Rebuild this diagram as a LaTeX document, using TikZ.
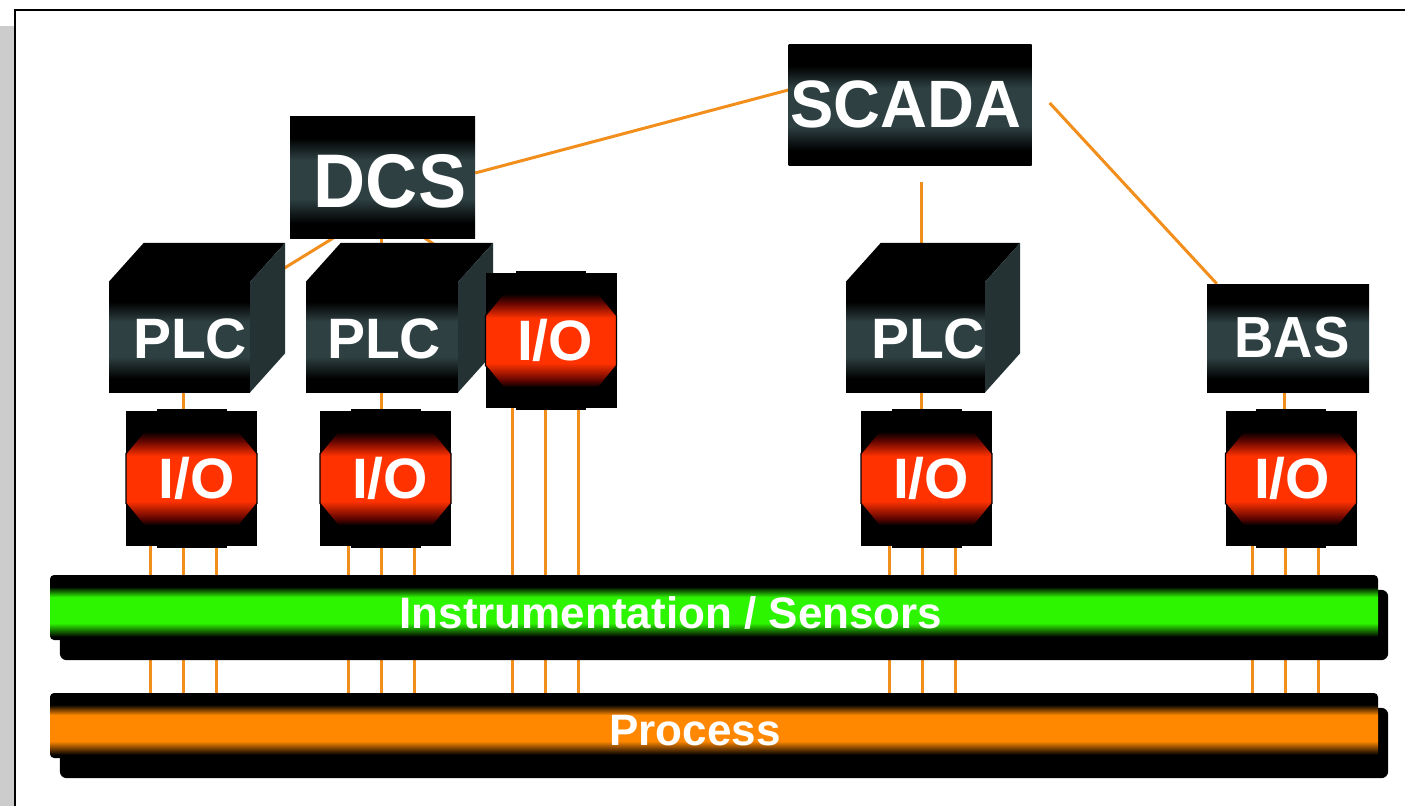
\documentclass[tikz,border=0pt]{standalone}
\usepackage{fontspec}
\setmainfont{Liberation Sans}
\usepackage{graphicx}
\usetikzlibrary{calc,backgrounds}

% palette
\definecolor{wireorange}{RGB}{242,142,28}
\definecolor{tubegreen}{RGB}{45,245,0}
\definecolor{tubeorange}{RGB}{255,136,0}
\definecolor{iored}{RGB}{255,50,0}
\definecolor{iodark}{RGB}{100,5,0}
\definecolor{slate}{RGB}{46,64,66}
\definecolor{cubeside}{RGB}{36,50,52}
\definecolor{framegray}{RGB}{204,204,204}

% vertical shadings (path is fitted to 25bp..75bp)
\pgfdeclareverticalshading{slateband}{100bp}{color(0bp)=(black); color(25bp)=(black); color(31bp)=(black); color(41bp)=(slate); color(57bp)=(slate); color(66bp)=(black); color(75bp)=(black); color(100bp)=(black)}
\pgfdeclareverticalshading{redglow}{100bp}{color(0bp)=(black); color(25bp)=(black); color(29bp)=(iodark); color(38bp)=(iored); color(62bp)=(iored); color(70bp)=(iodark); color(75bp)=(black); color(100bp)=(black)}
\pgfdeclareverticalshading{greentube}{100bp}{color(0bp)=(black); color(25bp)=(black); color(27.5bp)=(black); color(38bp)=(tubegreen); color(58bp)=(tubegreen); color(66bp)=(black); color(75bp)=(black); color(100bp)=(black)}
\pgfdeclareverticalshading{orangetube}{100bp}{color(0bp)=(black); color(25bp)=(black); color(27.5bp)=(black); color(38bp)=(tubeorange); color(58bp)=(tubeorange); color(66bp)=(black); color(75bp)=(black); color(100bp)=(black)}

\tikzset{
  wire/.style={draw=wireorange, line width=3pt},
  darkbox/.style={rectangle, inner sep=0pt, shading=slateband, shade},
  cubefront/.style={darkbox, minimum height=110pt},
  iobase/.style={rectangle, inner sep=0pt, fill=black, minimum width=131pt, minimum height=135pt},
  tube/.style={rectangle, inner sep=0pt, rounded corners=4pt, shade, minimum width=1328pt, minimum height=65pt},
  lbl/.style={text=white, inner sep=0pt, anchor=base},
  bigfont/.style={font=\bfseries\fontsize{#1}{#1}\selectfont},
}

% input/output module: black casing with a red octagonal front
\newcommand{\ioblock}[3]{%
  \node[iobase] (#1) at (#2,#3) {};
  \fill[black] ($(#1.north)+(-35,-1.5)$) rectangle ($(#1.south)+(35,1.5)$);
  \path[shade, shading=redglow, draw=black, line width=1.2pt]
    ($(#1.center)+(-65.5,-25)$) -- ($(#1.center)+(-47.5,-47)$) --
    ($(#1.center)+(47.5,-47)$) -- ($(#1.center)+(65.5,-25)$) --
    ($(#1.center)+(65.5,25)$) -- ($(#1.center)+(47.5,47)$) --
    ($(#1.center)+(-47.5,47)$) -- ($(#1.center)+(-65.5,25)$) -- cycle;
}
% controller cube: shaded front face plus top and side faces
\newcommand{\plccube}[4]{%
  \node[cubefront, minimum width=#4] (#1) at (#2,#3) {};
  \fill[black] (#1.north west) -- (#1.north east) -- ($(#1.north east)+(35,-39)$) -- ($(#1.north west)+(35,-39)$) -- cycle;
  \fill[cubeside] (#1.north east) -- (#1.south east) -- ($(#1.south east)+(35,-39)$) -- ($(#1.north east)+(35,-39)$) -- cycle;
}

\begin{document}
\begin{tikzpicture}[x=1pt, y=-1pt]
\useasboundingbox (0,0) rectangle (1405,806);

% ---- supervisory level ----
\node[darkbox, minimum width=243pt, minimum height=121pt] (scada) at (910,104.5) {};
\node[lbl, bigfont=67pt] at (906,127) {\scalebox{0.97}[1]{SCADA}};

\node[darkbox, minimum width=185pt, minimum height=122pt] (dcs) at (382.5,177) {};
\node[lbl, bigfont=76pt] at (390,207) {\scalebox{0.95}[1]{DCS}};

% ---- controllers ----
\plccube{plc1}{179.5}{337}{141pt}
\node[lbl, bigfont=57pt] at (190,358) {PLC};

\plccube{plc2}{382}{337}{152pt}
\node[lbl, bigfont=57pt] at (384,358) {PLC};

\plccube{plc3}{915.5}{337}{139pt}
\node[lbl, bigfont=57pt] at (928,358) {PLC};

\node[darkbox, minimum width=162pt, minimum height=108pt] (bas) at (1288,338) {};
\node[lbl, bigfont=58pt] at (1292,357) {\scalebox{0.94}[1]{BAS}};

% ---- I/O modules ----
\ioblock{io3}{551}{340.5}
\node[lbl, bigfont=57pt] at (555,360) {I/O};
\ioblock{io1}{191.5}{478.5}
\node[lbl, bigfont=57pt] at (197,498) {I/O};
\ioblock{io2}{385.5}{478.5}
\node[lbl, bigfont=57pt] at (390,498) {I/O};
\ioblock{io4}{926.5}{478.5}
\node[lbl, bigfont=57pt] at (931,498) {I/O};
\ioblock{io5}{1291}{478.5}
\node[lbl, bigfont=57pt] at (1292,498) {I/O};

% ---- field buses ----
\node[tube, shading=greentube] (instr) at (714,607.5) {};
\node[lbl, bigfont=44pt] at (671,628) {Instrumentation / Sensors};

\node[tube, shading=orangetube] (proc) at (714,725.5) {};
\node[lbl, bigfont=44pt] at (695,745) {Process};

% ---- page frame, links and bus shadows, kept behind all equipment ----
\begin{pgfonlayer}{background}
  \fill[white] (0,0) rectangle (1405,806);
  \fill[framegray] (0,26) rectangle (14,806);
  \draw[line width=2pt] (15,806) -- (15,10) -- (1405,10);

  \draw[wire] ($(dcs.east)+(0,-4)$) -- ($(scada.west)+(0,-14.5)$);
  \draw[wire] ($(scada.south)+(11,17)$) -- ($(plc3.north)+(5.5,-20)$);
  \draw[wire] ($(scada.east)+(18,-1.5)$) -- ($(bas.north west)+(10,0)$);
  \draw[wire] ($(dcs.south)+(-49.5,0)$) -- ($(plc1.north east)+(20,-5)$);
  \draw[wire] ($(dcs.south)+(-1.5,0)$) -- ($(plc2.north)+(-1,-20)$);
  \draw[wire] ($(dcs.south)+(42.5,0)$) -- ($(io3.north west)+(15,17)$);
  \draw[wire] ($(plc1.south)+(3.5,0)$) coordinate (l1) -- (l1 |- io1.north);
  \draw[wire] ($(plc2.south)+(-1,0)$) coordinate (l2) -- (l2 |- io2.north);
  \draw[wire] ($(plc3.south)+(6,0)$) coordinate (l3) -- (l3 |- io4.north);
  \draw[wire] ($(bas.south)+(-4,0)$) coordinate (l4) -- (l4 |- io5.north);
  \foreach \m/\o in {io1/-8.5, io2/-4.5, io3/-6, io4/-4.5, io5/-6}
    \foreach \d in {-33,0,33}
      \draw[wire] ($(\m.south)+({\o+\d},0)$) coordinate (tap) -- (tap |- proc.north);

  \fill[black, rounded corners=7pt] ($(instr.north west)+(10,15)$) rectangle ($(instr.south east)+(10,20)$);
  \fill[black, rounded corners=7pt] ($(proc.north west)+(10,15)$) rectangle ($(proc.south east)+(10,20)$);
\end{pgfonlayer}
\end{tikzpicture}
\end{document}
